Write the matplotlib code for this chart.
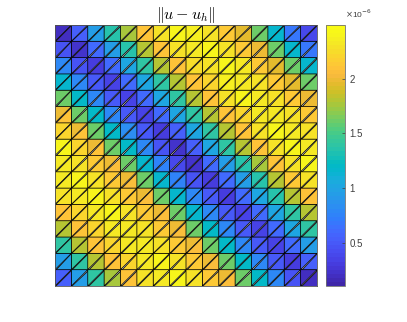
import numpy as np
import matplotlib
matplotlib.use("Agg")
import matplotlib.pyplot as plt
from matplotlib.colors import LinearSegmentedColormap

plt.rcParams['font.family'] = ['Liberation Sans', 'DejaVu Sans']
plt.rcParams['mathtext.fontset'] = 'cm'

# parula
parula_rgb = [
    [0.2422,0.1504,0.6603],[0.2578,0.1818,0.7511],[0.2706,0.2147,0.8364],[0.2783,0.2559,0.8991],
    [0.2813,0.3006,0.9414],[0.2795,0.3447,0.9717],[0.2699,0.3892,0.9906],[0.2440,0.4358,0.9988],
    [0.1963,0.4847,0.9892],[0.1786,0.5289,0.9682],[0.1687,0.5703,0.9359],[0.1460,0.6091,0.9079],
    [0.1248,0.6459,0.8883],[0.0952,0.6798,0.8598],[0.0297,0.7082,0.8163],[0.0067,0.7312,0.7660],
    [0.0964,0.7500,0.7120],[0.1717,0.7670,0.6554],[0.2161,0.7843,0.5923],[0.2906,0.7973,0.5188],
    [0.3909,0.8029,0.4354],[0.5044,0.7993,0.3480],[0.6174,0.7876,0.2612],[0.7242,0.7698,0.1910],
    [0.8203,0.7498,0.1535],[0.9035,0.7330,0.1774],[0.9728,0.7298,0.2394],[0.9970,0.7659,0.2199],
    [0.9892,0.8136,0.1885],[0.9676,0.8639,0.1643],[0.9597,0.9135,0.1423],[0.9691,0.9606,0.1064],
    [0.9769,0.9839,0.0805]]
parula = LinearSegmentedColormap.from_list("parula", parula_rgb, N=64)

# error per cell, in units of 1e-6, rows top to bottom
row00 = [0.20,0.55,0.95,1.35,1.78,2.10,2.28,2.40,2.36,2.30,2.12,1.96,1.60,1.15,0.70,0.40]
row01 = [0.45,0.25,0.60,0.95,1.35,1.80,2.10,2.28,2.33,2.38,2.30,2.12,1.97,1.60,1.15,0.70]
row02 = [0.80,0.45,0.30,0.60,1.00,1.40,1.80,2.10,2.24,2.28,2.38,2.33,2.12,1.95,1.60,1.15]
row03 = [1.15,0.80,0.50,0.35,0.60,1.00,1.40,1.80,2.10,2.22,2.36,2.33,2.28,2.12,1.96,1.60]
row04 = [1.60,1.20,0.80,0.50,0.35,0.60,1.00,1.40,1.80,2.10,2.28,2.38,2.33,2.28,2.14,1.98]
row05 = [1.98,1.60,1.20,0.80,0.50,0.35,0.60,1.00,1.40,1.80,2.10,2.22,2.33,2.33,2.28,2.14]
row06 = [2.20,1.98,1.63,1.20,0.85,0.50,0.30,0.55,1.00,1.40,1.80,2.10,2.28,2.38,2.33,2.28]
row07 = [2.38,2.22,1.98,1.60,1.20,0.80,0.45,0.25,0.55,1.00,1.40,1.80,2.10,2.28,2.38,2.33]
row08 = [2.33,2.28,2.14,1.98,1.60,1.15,0.75,0.40,0.25,0.60,0.95,1.35,1.78,2.10,2.28,2.40]
row09 = [2.33,2.38,2.28,2.14,1.98,1.60,1.15,0.75,0.45,0.30,0.60,0.95,1.35,1.80,2.14,2.28]
row10 = [2.28,2.33,2.38,2.28,2.14,1.98,1.60,1.15,0.80,0.50,0.30,0.60,1.00,1.35,1.80,2.10]
row11 = [2.10,2.22,2.33,2.38,2.28,2.14,1.98,1.60,1.15,0.80,0.50,0.35,0.60,1.00,1.40,1.80]
row12 = [1.80,2.10,2.22,2.33,2.33,2.28,2.14,1.98,1.60,1.20,0.80,0.50,0.35,0.60,1.00,1.40]
row13 = [1.40,1.80,2.10,2.22,2.33,2.33,2.28,2.14,1.98,1.60,1.20,0.80,0.50,0.35,0.60,0.95]
row14 = [0.95,1.40,1.80,2.10,2.22,2.33,2.38,2.28,2.14,1.98,1.63,1.20,0.80,0.50,0.30,0.55]
row15 = [0.55,0.95,1.40,1.78,2.10,2.28,2.33,2.38,2.28,2.14,1.98,1.60,1.20,0.80,0.45,0.20]
err_rows = [row00,row01,row02,row03,row04,row05,row06,row07,
            row08,row09,row10,row11,row12,row13,row14,row15]
# lower right triangles that read a little higher than their cell
lower_row = [5,6,7,8,9,10,11,12,13,14,15]
lower_col = [0,1,2,3,4,5,6,7,8,9,10]
lower_val = [2.10,2.10,2.10,2.08,2.08,2.08,2.08,2.08,2.08,2.08,2.08]
cbar_ticks = [0.5e-6, 1e-6, 1.5e-6, 2e-6]
cbar_labels = ['0.5', '1', '1.5', '2']
vmin, vmax = 0.106e-6, 2.49e-6

W, H = 407, 322
fig = plt.figure(figsize=(W/100, H/100), dpi=100)
ax = fig.add_axes([55/W, 1-286/H, 262/W, 261/H])

n = len(err_rows)
lower = np.array(err_rows, dtype=float)
for r, c, v in zip(lower_row, lower_col, lower_val):
    lower[r, c] = v
xs, ys = np.meshgrid(np.arange(n+1), np.arange(n+1))
tris = []
vals = []
for r in range(n):
    for c in range(n):
        # node ids, y grows upward, row 0 at the top
        bl = (n-r-1)*(n+1) + c
        br = bl + 1
        tl = bl + n + 1
        tr = tl + 1
        tris.append([bl, tr, tl])
        vals.append(err_rows[r][c]*1e-6)
        tris.append([bl, br, tr])
        vals.append(lower[r, c]*1e-6)

m = ax.tripcolor(xs.ravel(), ys.ravel(), np.array(tris), facecolors=np.array(vals),
                 cmap=parula, vmin=vmin, vmax=vmax, edgecolors='k', linewidth=0.55)
ax.set_xlim(0, n)
ax.set_ylim(0, n)
ax.set_xticks([])
ax.set_yticks([])
for s in ax.spines.values():
    s.set_color('#555555')
    s.set_linewidth(0.6)
ax.set_title(r'$\|u-u_h\|$', fontsize=11.5, pad=3)

cax = fig.add_axes([326/W, 1-286/H, 19/W, 261/H])
cb = fig.colorbar(m, cax=cax)
cb.set_ticks(cbar_ticks)
cb.set_ticklabels(cbar_labels)
cb.ax.tick_params(direction='in', length=2, width=0.5, labelsize=7, colors='#404040', pad=3)
cb.outline.set_edgecolor('#707070')
cb.outline.set_linewidth(0.6)
fig.text(345/W, 1-20/H, r'$\times$10$^{-6}$', fontsize=6, color='#404040', ha='left', va='bottom',
         math_fontfamily='dejavusans')

fig.savefig('out.png', dpi=100)
